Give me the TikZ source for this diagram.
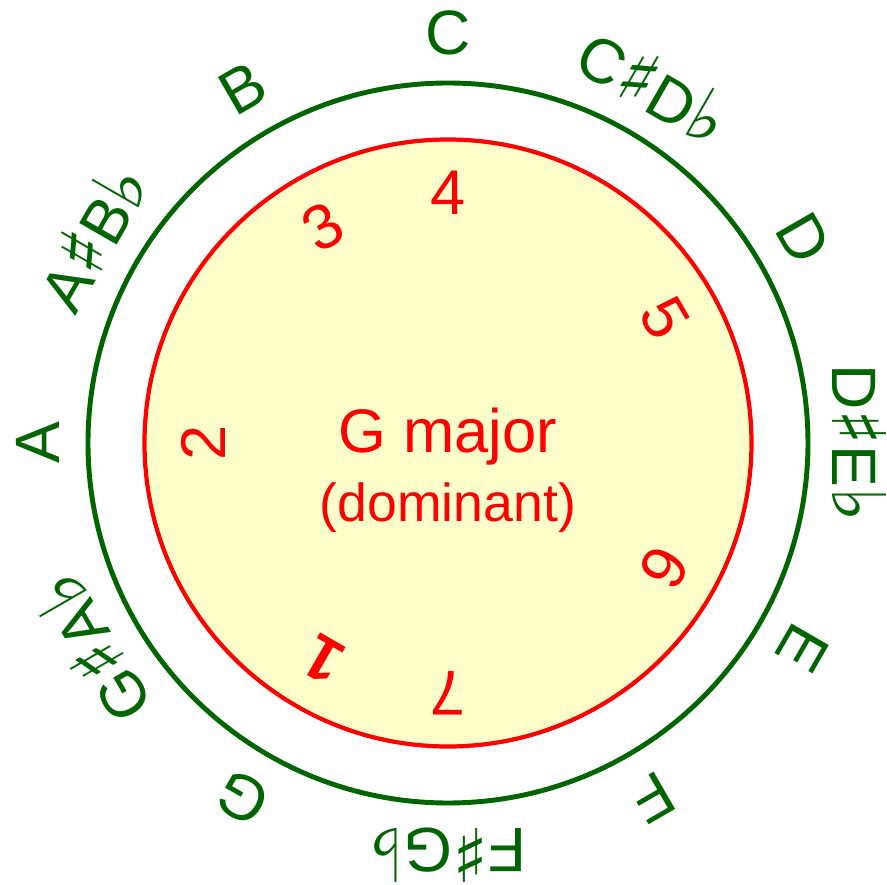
\documentclass[tikz,border=0pt]{standalone}
\usepackage{fontspec}
\setmainfont{Liberation Sans}
\newfontfamily\musicfont{DejaVu Sans}
\usepackage{xcolor}
\usepackage{tikz}
\definecolor{notegreen}{RGB}{0,100,0}
\definecolor{degreered}{RGB}{255,0,0}
\definecolor{keyfill}{RGB}{255,255,204}
\newcommand{\shp}{{\musicfont\fontsize{42}{42}\selectfont ♯}}
\newcommand{\flt}{{\musicfont\fontsize{42}{42}\selectfont ♭}}

\begin{document}
\begin{tikzpicture}[
  notering/.style={circle, draw=notegreen, line width=2.8pt, minimum size=14.4cm, inner sep=0pt},
  keyring/.style={circle, draw=degreered, fill=keyfill, line width=2.4pt, minimum size=12.14cm, inner sep=0pt},
  note/.style={text=notegreen, inner sep=0pt, font=\fontsize{35.7}{40}\selectfont},
  degree/.style={text=degreered, inner sep=0pt, font=\fontsize{36}{40}\selectfont},
  keyname/.style={text=degreered, inner sep=0pt, anchor=base}
]
\useasboundingbox (-8.96,-8.84) rectangle (8.78,8.86);

% Circles
\node[notering] (ring) at (0,0) {};
\node[keyring] (key) at (0,0) {};

% Chromatic notes
\node[note, rotate=0]    (nC)  at (90:8.2)    {C};
\node[note, rotate=-30]  (nCs) at (60:8.25)   {C\shp D\flt};
\node[note, rotate=-60]  (nD)  at (30:8.2)    {D};
\node[note, rotate=-90]  (nDs) at (0:8.22)    {D\shp E\flt};
\node[note, rotate=-120] (nE)  at (-30:8.2)   {E};
\node[note, rotate=-150] (nF)  at (-60:8.2)   {F};
\node[note, rotate=180]  (nFs) at (-90:8.25)  {F\shp G\flt};
\node[note, rotate=150]  (nG)  at (-120:8.2)  {G};
\node[note, rotate=120]  (nGs) at (-150:8.25) {G\shp A\flt};
\node[note, rotate=90]   (nA)  at (180:8.2)   {A};
\node[note, rotate=60]   (nAs) at (150:8.25)  {A\shp B\flt};
\node[note, rotate=30]   (nB)  at (120:8.2)   {B};

% Scale degrees
\node[degree, rotate=150, font=\fontsize{36}{40}\selectfont\bfseries] (d1) at (-120:5.0) {1};
\node[degree, rotate=90]  (d2) at (180:4.9) {2};
\node[degree, rotate=30]  (d3) at (120:5.0) {3};
\node[degree, rotate=0]   (d4) at (90:5.0)  {4};
\node[degree, rotate=-60] (d5) at (30:5.0)  {5};
\node[degree, rotate=-120](d6) at (-30:5.0) {6};
\node[degree, rotate=180] (d7) at (-90:5.0) {7};

% Key name
\node[keyname, font=\fontsize{35}{40}\selectfont] (kname) at (0,-0.2) {G major};
\node[keyname, font=\fontsize{30.5}{36}\selectfont] (kfunc) at (0,-1.58) {(dominant)};

\end{tikzpicture}
\end{document}
